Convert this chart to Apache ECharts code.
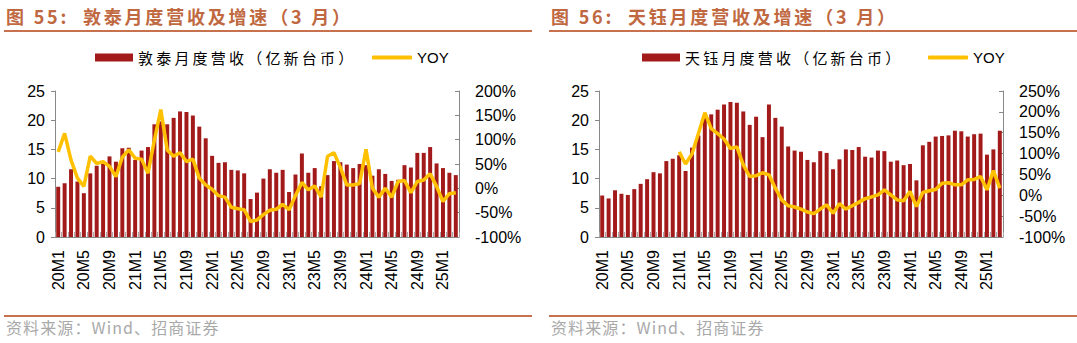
<!DOCTYPE html>
<html><head><meta charset="utf-8">
<script src="https://cdn.jsdelivr.net/npm/echarts@6/dist/echarts.min.js"></script>
<style>
html,body{margin:0;padding:0;background:#fff}
#c{width:1077px;height:343px}
#c text[fill="#c0683f"]{letter-spacing:2.8px}
#c text[fill="#010101"]{letter-spacing:3.2px}
#c text[fill="#a9a9a9"]{letter-spacing:1.1px}
</style>
</head><body><div id="c"></div>
<script>
// categories 20M1 .. 25M3
const categories = [];
for (let y = 20; y <= 25; y++) for (let m = 1; m <= 12; m++) { if (y === 25 && m > 3) break; categories.push(y + 'M' + m); }

const focalRevenue = [8.6,9.2,11.6,9.5,7.5,10.9,12.2,12.5,13.8,12.9,15.2,15.3,13.2,14.8,15.4,19.3,19.8,19.3,20.4,21.5,21.4,20.8,18.9,16.9,13.9,12.7,12.8,11.5,11.4,10.9,6.5,7.6,10.0,11.6,11.0,11.5,7.7,10.7,14.3,11.0,11.8,8.7,10.6,13.0,12.8,12.4,11.8,12.5,12.3,10.5,11.6,10.8,9.6,9.8,12.3,11.9,14.4,14.4,15.4,12.6,11.8,11.0,10.6];
const focalYoy = [75,113,58,21,4,66,51,55,45,24,64,79,62,60,31,99,162,79,66,73,55,60,21,7,-2,-15,-18,-39,-42,-44,-68,-65,-54,-45,-43,-33,-44,-15,12,-3,5,-18,66,73,43,7,7,10,80,0,-18,0,-18,14,16,-9,14,17,30,4,-27,-11,-9];

const fitiRevenue = [7.1,6.6,8.0,7.4,7.2,8.2,9.1,9.9,11.1,10.9,13.0,13.4,14.0,11.3,15.3,17.4,20.5,21.0,21.8,22.7,23.1,23.0,21.5,19.2,20.6,17.1,22.7,20.4,18.9,15.5,14.8,14.6,13.2,12.8,14.7,14.4,11.6,13.3,15.0,14.9,15.4,13.75,13.6,14.8,14.7,12.9,13.1,12.3,12.5,9.7,15.7,16.3,17.2,17.3,17.4,18.2,18.1,17.2,17.6,17.7,14.1,15.0,18.2];
const fitiYoy = [null,null,null,null,null,null,null,null,null,null,null,null,104,75,99,148,198,160,148,135,112,116,73,45,47,54,49,17,-11,-25,-28,-33,-40,-44,-33,-23,-43,-20,-33,-25,-17,-8,-4,1,13,1,-11,-13,9,-27,7,11,14,29,30,25,25,37,38,45,13,59,17];

const titles = ['图 55:  敦泰月度营收及增速（3 月）', '图 56:  天钰月度营收及增速（3 月）'];
const barNames = ['敦泰月度营收（亿新台币）', '天钰月度营收（亿新台币）'];
const lineNames = ['YOY', 'YOY '];
const rightAxisMax = [200, 250];

const FONT = '"Liberation Sans", Arial, "Noto Sans CJK SC", sans-serif';
const CJK = '"Noto Sans CJK SC", "Liberation Sans", sans-serif';
const BAR = '#a31a1b', LINE = '#ffc000', RULE = '#c8714f', TITLE = '#c0683f';

const chart = echarts.init(document.getElementById('c'), null, {renderer: 'svg'});
const lefts = [55, 599];
const W = 404;

const grids = [], xAxes = [], yAxes = [], series = [], legends = [], graphics = [];
[0, 1].forEach(k => {
  grids.push({left: lefts[k], width: W, top: 91, height: 146, containLabel: false});
  xAxes.push({type: 'category', gridIndex: k, data: categories,
    axisLine: {lineStyle: {color: '#888', width: 1}},
    axisTick: {show: true, inside: true, length: 5, interval: 0, lineStyle: {color: '#aaa'}},
    axisLabel: {interval: 3, rotate: 90, color: '#000', fontSize: 16, fontFamily: FONT, margin: 13}});
  yAxes.push({type: 'value', gridIndex: k, min: 0, max: 25, interval: 5, position: 'left',
    splitLine: {show: false},
    axisLine: {show: true, lineStyle: {color: '#888'}},
    axisTick: {show: true, length: 4, lineStyle: {color: '#888'}},
    axisLabel: {color: '#000', fontSize: 16, fontFamily: FONT, margin: 10}});
  yAxes.push({type: 'value', gridIndex: k, min: -100, max: rightAxisMax[k], interval: 50, position: 'right',
    splitLine: {show: false},
    axisLine: {show: true, lineStyle: {color: '#888'}},
    axisTick: {show: true, inside: true, length: 4, lineStyle: {color: '#888'}},
    axisLabel: {color: '#000', fontSize: 16, fontFamily: FONT, margin: 16, formatter: '{value}%'}});
  series.push({name: barNames[k], type: 'bar', xAxisIndex: k, yAxisIndex: 2 * k,
    data: k === 0 ? focalRevenue : fitiRevenue, barCategoryGap: '38%',
    itemStyle: {color: BAR}});
  series.push({name: lineNames[k], type: 'line', xAxisIndex: k, yAxisIndex: 2 * k + 1,
    data: k === 0 ? focalYoy : fitiYoy, symbol: 'none', connectNulls: false,
    lineStyle: {color: LINE, width: 3.5}, itemStyle: {color: LINE}});
  const iconX = k === 0 ? [95, 372] : [642, 928];
  legends.push({top: 50, left: iconX[0], padding: 0, itemWidth: 38, itemHeight: 8, itemGap: 6,
    textStyle: {fontSize: 15, fontFamily: CJK, color: '#010101'},
    data: [{name: barNames[k], icon: 'rect'}]});
  legends.push({top: 50, left: iconX[1], padding: 0, itemWidth: 40, itemHeight: 4, itemGap: 4,
    textStyle: {fontSize: 15, fontFamily: '"Liberation Sans Narrow", "Liberation Sans", Arial, sans-serif', color: '#000'},
    data: [{name: lineNames[k], icon: 'roundRect', itemStyle: {color: LINE}}]});
  const x0 = k === 0 ? 0 : 545;
  const x1 = k === 0 ? 532 : 1077;
  graphics.push({type: 'text', left: x0 + 6, top: 7, style: {text: titles[k], fill: TITLE, font: 'bold 18px ' + CJK}});
  graphics.push({type: 'rect', shape: {x: x0 + 4, y: 30, width: x1 - x0 - 4, height: 2}, style: {fill: RULE}});
  graphics.push({type: 'rect', shape: {x: x0 + 4, y: 315, width: x1 - x0 - 4, height: 2}, style: {fill: RULE}});
  graphics.push({type: 'text', left: x0 + 6, top: 319, style: {text: '资料来源：Wind、招商证券', fill: '#a9a9a9', font: '16px ' + CJK}});
});

chart.setOption({
  animation: false,
  grid: grids, xAxis: xAxes, yAxis: yAxes, series: series, legend: legends, graphic: graphics
});
</script></body></html>
